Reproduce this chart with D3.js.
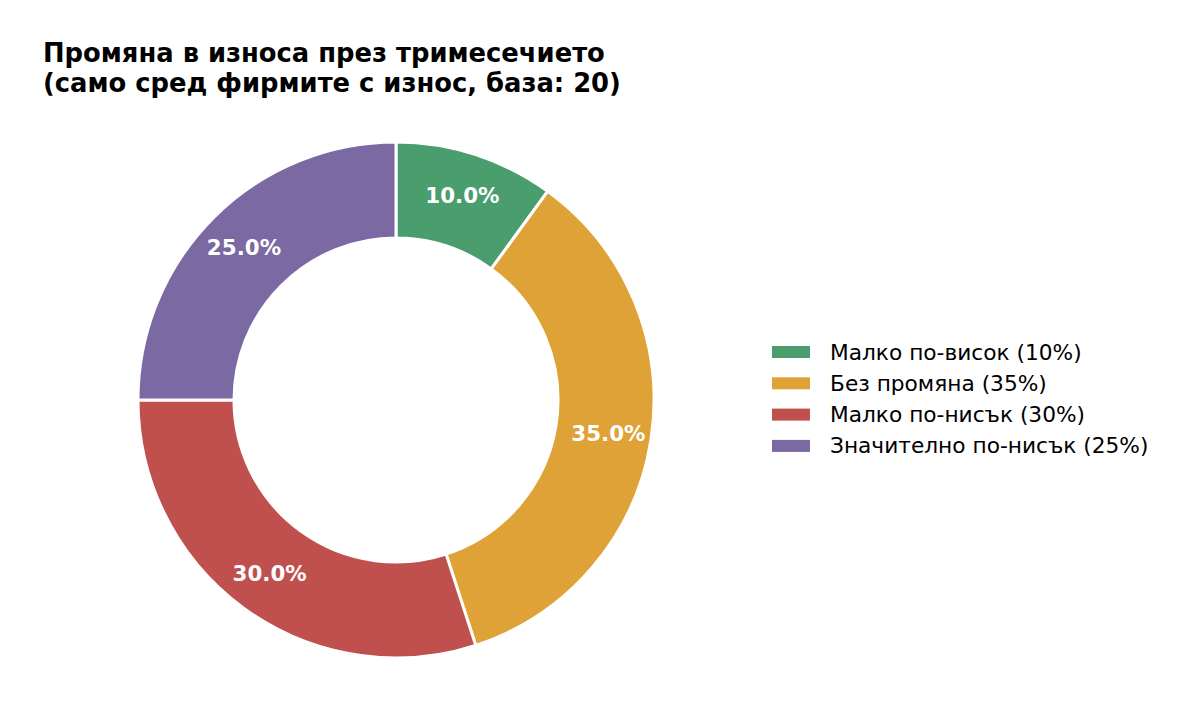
<!DOCTYPE html>
<html><head><meta charset="utf-8">
<script src="https://cdn.jsdelivr.net/npm/d3@7"></script>
<style>body{margin:0;background:#fff;} svg{display:block;}</style>
</head><body>
<svg id="c" width="1200" height="728"></svg>
<script>
const titleLines = ["Промяна в износа през тримесечието", "(само сред фирмите с износ, база: 20)"];
const categories = ["Малко по-висок (10%)", "Без промяна (35%)", "Малко по-нисък (30%)", "Значително по-нисък (25%)"];
const values = [10, 35, 30, 25];
const colors = ["#4a9e6e", "#dea237", "#c0504d", "#7b69a4"];

const svg = d3.select("#c");
const font = "'DejaVu Sans', sans-serif";

svg.selectAll("text.title").data(titleLines).enter().append("text")
  .attr("class","title")
  .attr("x", 43).attr("y", (d,i)=>62 + i*30)
  .attr("font-family", font).attr("font-weight","bold").attr("font-size", 25.8)
  .attr("fill","#000").text(d=>d);

const cx = 396, cy = 400, rOut = 258, rIn = 162;
const pie = d3.pie().sort(null).value(d=>d);
const arcs = pie(values);
const arc = d3.arc().innerRadius(rIn).outerRadius(rOut);
const labelArc = d3.arc().innerRadius(215).outerRadius(215);
const total = d3.sum(values);

const g = svg.append("g").attr("transform", `translate(${cx},${cy})`);
g.selectAll("path").data(arcs).enter().append("path")
  .attr("d", arc).attr("fill", (d,i)=>colors[i])
  .attr("stroke","#fff").attr("stroke-width",3).attr("stroke-linejoin","miter");
g.selectAll("text").data(arcs).enter().append("text")
  .attr("transform", d=>`translate(${labelArc.centroid(d)})`)
  .attr("text-anchor","middle").attr("dominant-baseline","central")
  .attr("font-family", font).attr("font-weight","bold").attr("font-size", 21.4)
  .attr("fill","#fff")
  .text(d=>(d.value/total*100).toFixed(1)+"%");

const legend = svg.append("g");
const ly = d3.scaleLinear().domain([0,1]).range([352, 383.3]);
categories.forEach((c,i)=>{
  legend.append("rect").attr("x",772).attr("y",ly(i)-6).attr("width",38).attr("height",12).attr("fill",colors[i]);
  legend.append("text").attr("x",830).attr("y",ly(i)).attr("dominant-baseline","central")
    .attr("font-family", font).attr("font-size",21.7).attr("fill","#000").text(c);
});
</script>
</body></html>
